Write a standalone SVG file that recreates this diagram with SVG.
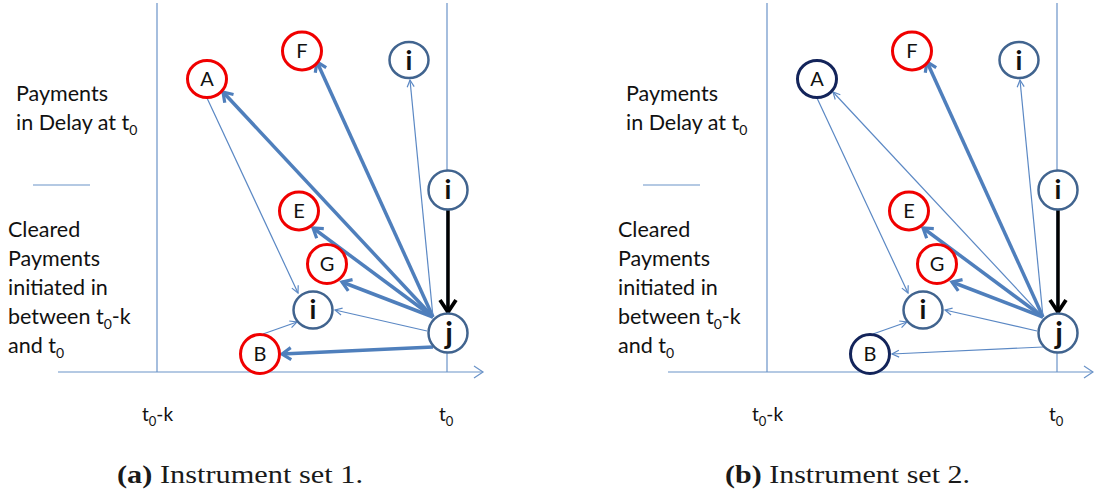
<svg xmlns="http://www.w3.org/2000/svg" width="1094" height="497" viewBox="0 0 1094 497">
<style>
.lbl{font-family:Lato,"Open Sans","Liberation Sans",sans-serif;font-size:21.5px;fill:#111}
.ax{font-family:Lato,"Open Sans","Liberation Sans",sans-serif;font-size:19px;fill:#111}
.cap{font-family:"Liberation Serif","Times New Roman",serif;font-size:25px;fill:#1a1a1a}
.guide{stroke:#6a93c8;stroke-width:1.2;fill:none}
.red{fill:#fff;stroke:#f00000;stroke-width:3}
.blu{fill:#fff;stroke:#41648f;stroke-width:2.5}
.navy{fill:#fff;stroke:#13245a;stroke-width:3}
.nt{font-family:Lato,"Open Sans","Liberation Sans",sans-serif;font-size:20px;fill:#111;text-anchor:middle}
.ni{font-family:Lato,"Open Sans","Liberation Sans",sans-serif;font-size:27px;font-weight:bold;fill:#111;text-anchor:middle}
.nj{font-family:Lato,"Open Sans","Liberation Sans",sans-serif;font-size:30px;font-weight:bold;fill:#111;text-anchor:middle}
.thick{stroke:#4f7fbc;stroke-width:3.5;fill:none;marker-end:url(#mThick)}
.thin{stroke:#5b88c4;stroke-width:1.2;fill:none;marker-end:url(#mThin)}
.blk{stroke:#000;stroke-width:3.5;fill:none;marker-end:url(#mBlack)}
</style>
<defs>
<marker id="mThick" markerUnits="userSpaceOnUse" viewBox="0 0 16 16" markerWidth="16" markerHeight="16" refX="12" refY="8" orient="auto">
<path d="M3,2 L12,8 L3,14" fill="none" stroke="#4f7fbc" stroke-width="3.2" stroke-linejoin="miter"/>
</marker>
<marker id="mThin" markerUnits="userSpaceOnUse" viewBox="0 0 10 10" markerWidth="10" markerHeight="10" refX="8.5" refY="5" orient="auto">
<path d="M1.5,1.5 L8.5,5 L1.5,8.5" fill="none" stroke="#5b88c4" stroke-width="1.2"/>
</marker>
<marker id="mBlack" markerUnits="userSpaceOnUse" viewBox="0 0 20 20" markerWidth="20" markerHeight="20" refX="16" refY="10" orient="auto">
<path d="M4,2 L16,10 L4,18" fill="none" stroke="#000" stroke-width="3.8"/>
</marker>
<marker id="mAxis" markerUnits="userSpaceOnUse" viewBox="0 0 12 16" markerWidth="12" markerHeight="16" refX="10" refY="8" orient="auto">
<path d="M1,2 L10,8 L1,14" fill="none" stroke="#6a93c8" stroke-width="1.2"/>
</marker>
</defs>
<rect width="1094" height="497" fill="#fff"/>

<g id="panel-a">
<g id="a-axes">
<line class="guide" x1="157" y1="3" x2="157" y2="372"/>
<line class="guide" x1="447" y1="3" x2="447" y2="372"/>
<line class="guide" x1="58" y1="372" x2="483" y2="372" marker-end="url(#mAxis)"/>
<line class="guide" x1="33" y1="185" x2="90" y2="185"/>
</g>
<g id="a-labels">
<text class="lbl" x="16" y="101">Payments</text>
<text class="lbl" x="16" y="130">in Delay at t<tspan font-size="14" dy="5">0</tspan></text>
<text class="lbl" x="8" y="237">Cleared</text>
<text class="lbl" x="8" y="266">Payments</text>
<text class="lbl" x="8" y="295">initiated in</text>
<text class="lbl" x="8" y="324">between t<tspan font-size="14" dy="5">0</tspan><tspan dy="-5">-k</tspan></text>
<text class="lbl" x="8" y="353">and t<tspan font-size="14" dy="5">0</tspan></text>
<text class="ax" x="142" y="421">t<tspan font-size="13" dy="5">0</tspan><tspan dy="-5">-k</tspan></text>
<text class="ax" x="439" y="421">t<tspan font-size="13" dy="5">0</tspan></text>
</g>
<g id="a-connectors">
<path class="thin" d="M207,98 L298,293"/>
<path class="thick" d="M433,317 L223,92"/>
<path class="thick" d="M433,317 L317,62"/>
<path class="thin" d="M433,317 L410,80"/>
<path class="thick" d="M433,317 L313,228"/>
<path class="thick" d="M433,317 L342,282"/>
<path class="thin" d="M427,331 L335,310"/>
<path class="thin" d="M263,334 L297,322"/>
<path class="thick" d="M433,347 L282,354"/>
<path class="blk" d="M448,210 L448,312"/>
</g>
<g id="a-node-A"><ellipse class="red" cx="207" cy="79" rx="19.5" ry="18.5"/><text class="nt" x="207" y="86">A</text></g>
<g id="a-node-F"><ellipse class="red" cx="302" cy="51" rx="19.5" ry="19"/><text class="nt" x="302" y="58">F</text></g>
<g id="a-node-i1"><ellipse class="blu" cx="409" cy="60" rx="19.5" ry="18"/><text class="ni" x="409" y="70">i</text></g>
<g id="a-node-i2"><ellipse class="blu" cx="448" cy="190" rx="19.5" ry="19.5"/><text class="ni" x="448" y="199">i</text></g>
<g id="a-node-E"><ellipse class="red" cx="299" cy="211" rx="19.5" ry="19"/><text class="nt" x="299" y="218">E</text></g>
<g id="a-node-G"><ellipse class="red" cx="327" cy="264" rx="19.5" ry="19.5"/><text class="nt" x="327" y="271">G</text></g>
<g id="a-node-i3"><ellipse class="blu" cx="313" cy="310" rx="19.5" ry="18.5"/><text class="ni" x="313" y="319">i</text></g>
<g id="a-node-j"><ellipse class="blu" cx="448" cy="333" rx="19.5" ry="19.5"/><text class="nj" x="449" y="344">j</text></g>
<g id="a-node-B"><ellipse class="red" cx="260" cy="354" rx="19.5" ry="19.5"/><text class="nt" x="260" y="361">B</text></g>
<text class="cap" x="117" y="483" textLength="246" lengthAdjust="spacingAndGlyphs"><tspan font-weight="bold">(a)</tspan> Instrument set 1.</text>
</g>

<g id="panel-b" transform="translate(610,0)">
<g id="b-axes">
<line class="guide" x1="157" y1="3" x2="157" y2="372"/>
<line class="guide" x1="447" y1="3" x2="447" y2="372"/>
<line class="guide" x1="58" y1="372" x2="483" y2="372" marker-end="url(#mAxis)"/>
<line class="guide" x1="33" y1="185" x2="90" y2="185"/>
</g>
<g id="b-labels">
<text class="lbl" x="16" y="101">Payments</text>
<text class="lbl" x="16" y="130">in Delay at t<tspan font-size="14" dy="5">0</tspan></text>
<text class="lbl" x="8" y="237">Cleared</text>
<text class="lbl" x="8" y="266">Payments</text>
<text class="lbl" x="8" y="295">initiated in</text>
<text class="lbl" x="8" y="324">between t<tspan font-size="14" dy="5">0</tspan><tspan dy="-5">-k</tspan></text>
<text class="lbl" x="8" y="353">and t<tspan font-size="14" dy="5">0</tspan></text>
<text class="ax" x="142" y="421">t<tspan font-size="13" dy="5">0</tspan><tspan dy="-5">-k</tspan></text>
<text class="ax" x="439" y="421">t<tspan font-size="13" dy="5">0</tspan></text>
</g>
<g id="b-connectors">
<path class="thin" d="M207,98 L298,293"/>
<path class="thin" d="M433,317 L223,92"/>
<path class="thick" d="M433,317 L317,62"/>
<path class="thin" d="M433,317 L410,80"/>
<path class="thick" d="M433,317 L313,228"/>
<path class="thick" d="M433,317 L342,282"/>
<path class="thin" d="M427,331 L335,310"/>
<path class="thin" d="M263,334 L297,322"/>
<path class="thin" d="M433,347 L282,354"/>
<path class="blk" d="M448,210 L448,312"/>
</g>
<g id="b-node-A"><ellipse class="navy" cx="207" cy="79" rx="19.5" ry="18.5"/><text class="nt" x="207" y="86">A</text></g>
<g id="b-node-F"><ellipse class="red" cx="302" cy="51" rx="19.5" ry="19"/><text class="nt" x="302" y="58">F</text></g>
<g id="b-node-i1"><ellipse class="blu" cx="409" cy="60" rx="19.5" ry="18"/><text class="ni" x="409" y="70">i</text></g>
<g id="b-node-i2"><ellipse class="blu" cx="448" cy="190" rx="19.5" ry="19.5"/><text class="ni" x="448" y="199">i</text></g>
<g id="b-node-E"><ellipse class="red" cx="299" cy="211" rx="19.5" ry="19"/><text class="nt" x="299" y="218">E</text></g>
<g id="b-node-G"><ellipse class="red" cx="327" cy="264" rx="19.5" ry="19.5"/><text class="nt" x="327" y="271">G</text></g>
<g id="b-node-i3"><ellipse class="blu" cx="313" cy="310" rx="19.5" ry="18.5"/><text class="ni" x="313" y="319">i</text></g>
<g id="b-node-j"><ellipse class="blu" cx="448" cy="333" rx="19.5" ry="19.5"/><text class="nj" x="449" y="344">j</text></g>
<g id="b-node-B"><ellipse class="navy" cx="260" cy="354" rx="19.5" ry="19.5"/><text class="nt" x="260" y="361">B</text></g>
<text class="cap" x="115" y="483" textLength="245" lengthAdjust="spacingAndGlyphs"><tspan font-weight="bold">(b)</tspan> Instrument set 2.</text>
</g>
</svg>
